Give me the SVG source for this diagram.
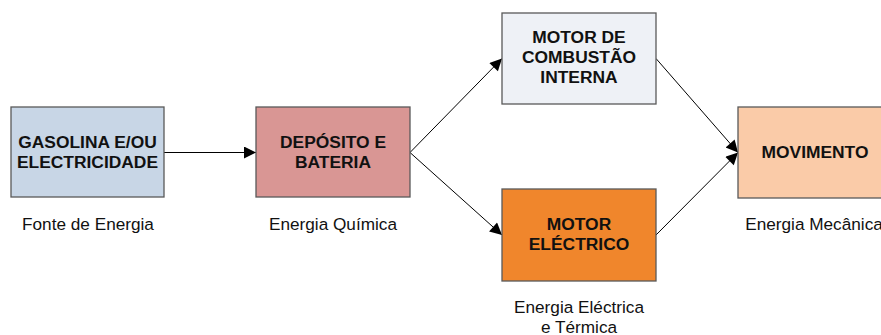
<svg xmlns="http://www.w3.org/2000/svg" width="881" height="335" viewBox="0 0 881 335">
<defs>
<style>
.box{stroke:#595959;stroke-width:1.3}
.t{font-family:"Liberation Sans",Arial,sans-serif;font-weight:bold;font-size:17.4px;fill:#111;text-anchor:middle}
.l{font-family:"Liberation Sans",Arial,sans-serif;font-size:17.2px;fill:#111;text-anchor:middle}
.c{stroke:#000;stroke-width:1;fill:none;marker-end:url(#ah)}
</style>
<marker id="ah" viewBox="0 0 10 10" refX="10" refY="5" markerWidth="18" markerHeight="12" markerUnits="userSpaceOnUse" orient="auto">
<path d="M0,0 L10,5 L0,10 Z" fill="#000"/>
</marker>
</defs>
<rect width="881" height="335" fill="#fff"/>
<g id="connectors">
<line class="c" x1="164" y1="152.5" x2="256" y2="152.5"/>
<line class="c" x1="410" y1="152.5" x2="502" y2="58.5"/>
<line class="c" x1="410" y1="152.5" x2="502" y2="235"/>
<line class="c" x1="656" y1="58.5" x2="738" y2="152.5"/>
<line class="c" x1="656" y1="235" x2="738" y2="152.5"/>
</g>
<g id="gasolina">
<rect class="box" x="11" y="107" width="153" height="90" fill="#C8D6E6"/>
<text class="t" x="87.5" y="148">GASOLINA E/OU</text>
<text class="t" x="87.5" y="167.5">ELECTRICIDADE</text>
</g>
<g id="deposito">
<rect class="box" x="256" y="107" width="154" height="90" fill="#D99694"/>
<text class="t" x="333" y="148">DEPÓSITO E</text>
<text class="t" x="333" y="167.5">BATERIA</text>
</g>
<g id="motor-combustao">
<rect class="box" x="502" y="13" width="154" height="91" fill="#EEF1F6"/>
<text class="t" x="579" y="43">MOTOR DE</text>
<text class="t" x="579" y="63">COMBUSTÃO</text>
<text class="t" x="579" y="83">INTERNA</text>
</g>
<g id="motor-electrico">
<rect class="box" x="502" y="189" width="154" height="92" fill="#F0862C"/>
<text class="t" x="579" y="230">MOTOR</text>
<text class="t" x="579" y="250">ELÉCTRICO</text>
</g>
<g id="movimento">
<rect class="box" x="738" y="107" width="154" height="91" fill="#FACBA8"/>
<text class="t" x="815" y="157.5">MOVIMENTO</text>
</g>
<g id="labels">
<text class="l" x="88" y="230">Fonte de Energia</text>
<text class="l" x="333" y="230">Energia Química</text>
<text class="l" x="814" y="230">Energia Mecânica</text>
<text class="l" x="579" y="313">Energia Eléctrica</text>
<text class="l" x="579" y="333">e Térmica</text>
</g>
</svg>
